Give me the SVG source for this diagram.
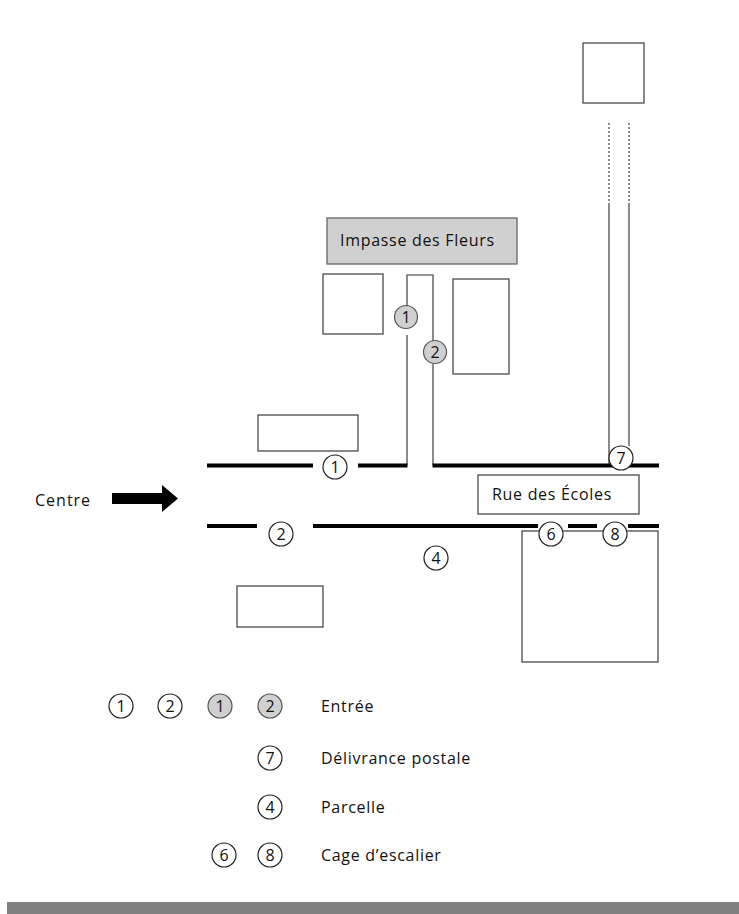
<svg xmlns="http://www.w3.org/2000/svg" width="739" height="914" viewBox="0 0 739 914">
<style>
.bld{fill:#fff;stroke:#4a4a4a;stroke-width:1.3}
.lane{fill:none;stroke:#707070;stroke-width:1.6}
.road{fill:none;stroke:#000;stroke-width:4}
.dot{fill:none;stroke:#707070;stroke-width:1.6;stroke-dasharray:2 2}
.c{fill:#fff;stroke:#222;stroke-width:1.2}
.cg{fill:#d0d0d0;stroke:#555;stroke-width:1.2}
.n{font-family:"Open Sans","Noto Sans",sans-serif;font-size:16px;fill:#111;text-anchor:middle}
.t{font-family:"Open Sans","Noto Sans",sans-serif;font-size:16px;letter-spacing:0.7px;fill:#111}
</style>
<rect width="739" height="914" fill="#fff"/>
<g id="connectors">
<path class="dot" d="M609,123 V203 M629,123 V203"/>
<path class="lane" d="M609,203 V465 M629,203 V446"/>
<path class="lane" d="M407,465 V335 M407,306 V275 H433 V341 M433,364 V465"/>
<path class="road" d="M207,465.5 H313 M358,465.5 H407.5 M432.5,465.5 H659"/>
<path class="road" d="M207,526 H257 M313,526 H538 M568,526 H597 M628,526 H659"/>
</g>
<g id="top-square"><rect class="bld" x="583" y="43" width="61" height="60"/></g>
<g id="impasse"><rect x="327" y="218" width="190" height="46" fill="#d0d0d0" stroke="#666" stroke-width="1.3"/><text class="t" x="340" y="246">Impasse des Fleurs</text></g>
<g id="bldg-a"><rect class="bld" x="323" y="274" width="60" height="60"/></g>
<g id="bldg-b"><rect class="bld" x="453" y="279" width="56" height="95"/></g>
<g id="bldg-c"><rect class="bld" x="258" y="415" width="100" height="36"/></g>
<g id="bldg-d"><rect class="bld" x="237" y="586" width="86" height="41"/></g>
<g id="parcel"><rect class="bld" x="522" y="531" width="136" height="131"/></g>
<g id="rue"><rect class="bld" x="478" y="475" width="161" height="39"/><text class="t" x="492" y="500">Rue des Écoles</text></g>
<g id="centre"><text class="t" x="35" y="506" style="letter-spacing:1px">Centre</text><path d="M112,493 H162 V485 L178,498.5 L162,512 V504 H112 Z" fill="#000"/></g>
<g id="markers">
<circle class="cg" cx="406" cy="317" r="11.5"/><text class="n" x="406" y="322.7">1</text>
<circle class="cg" cx="435" cy="352" r="11.5"/><text class="n" x="435" y="357.7">2</text>
<circle class="c" cx="335" cy="467" r="12"/><text class="n" x="335" y="472.7">1</text>
<circle class="c" cx="281" cy="534" r="12"/><text class="n" x="281" y="539.7">2</text>
<circle class="c" cx="621" cy="458" r="12"/><text class="n" x="621" y="463.7">7</text>
<circle class="c" cx="551" cy="534" r="12"/><text class="n" x="551" y="539.7">6</text>
<circle class="c" cx="615" cy="534" r="12"/><text class="n" x="615" y="539.7">8</text>
<circle class="c" cx="436" cy="558" r="12"/><text class="n" x="436" y="563.7">4</text>
</g>
<g id="legend">
<circle class="c" cx="121" cy="706" r="12"/><text class="n" x="121" y="711.7">1</text>
<circle class="c" cx="170" cy="706" r="12"/><text class="n" x="170" y="711.7">2</text>
<circle class="cg" cx="220" cy="706" r="12"/><text class="n" x="220" y="711.7">1</text>
<circle class="cg" cx="270" cy="706" r="12"/><text class="n" x="270" y="711.7">2</text>
<text class="t" x="321" y="712">Entrée</text>
<circle class="c" cx="270" cy="758" r="12"/><text class="n" x="270" y="763.7">7</text>
<text class="t" x="321" y="764">Délivrance postale</text>
<circle class="c" cx="270" cy="807" r="12"/><text class="n" x="270" y="812.7">4</text>
<text class="t" x="321" y="813">Parcelle</text>
<circle class="c" cx="224" cy="855" r="12"/><text class="n" x="224" y="860.7">6</text>
<circle class="c" cx="270" cy="855" r="12"/><text class="n" x="270" y="860.7">8</text>
<text class="t" x="321" y="861">Cage d’escalier</text>
</g>
<rect x="7" y="902" width="732" height="12" fill="#808080"/>
</svg>
